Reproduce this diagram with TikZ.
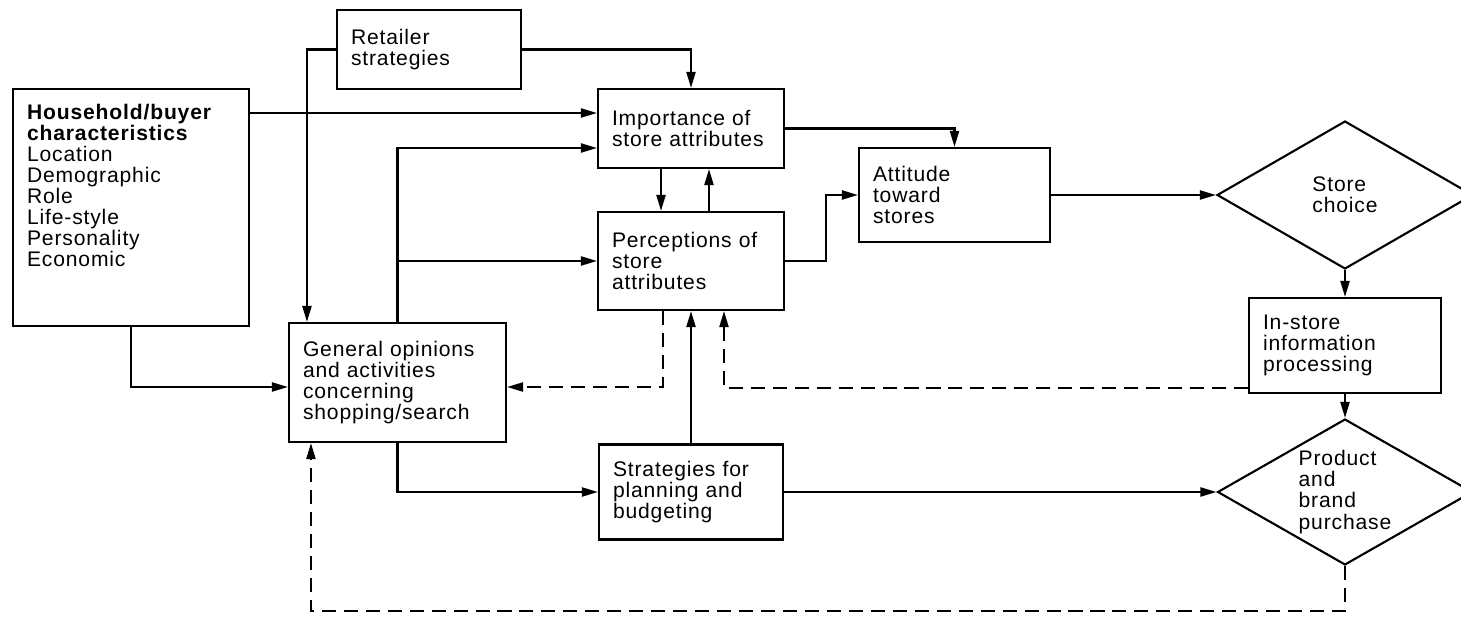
\documentclass[tikz,border=0pt]{standalone}
\usepackage{fontspec}
\setmainfont{Liberation Sans}[LetterSpace=4]
\usetikzlibrary{arrows.meta,shapes.geometric}

\begin{document}
\begin{tikzpicture}[x=0.02cm,y=-0.02cm,
    every node/.style={font=\fontsize{12}{12}\selectfont},
    box/.style={draw,line width=1.2pt,align=left,inner xsep=0.28cm,inner ysep=0pt},
    choicebox/.style={draw,diamond,line width=1.2pt,align=left,inner sep=0pt,shape aspect=1.73},
    link/.style={line width=1.2pt,-{Triangle[length=3.2mm,width=1.8mm]}},
    back/.style={link,dash pattern=on 8pt off 4.5pt}]
\useasboundingbox (0,0) rectangle (1461,625);

% boxes
\node[box,text width=3.12cm,minimum height=1.58cm] (retail) at (429,49.5) {Retailer\\strategies};
\node[box,anchor=north west,inner ysep=0.3cm] (house) at (12,88)
    {\parbox[t][4.14cm][t]{4.16cm}{\raggedright{\bfseries Household/buyer\\characteristics}\\Location\\Demographic\\Role\\Life-style\\Personality\\Economic}};
\node[box,text width=3.16cm,minimum height=1.58cm] (imp) at (691,128.5) {Importance of\\store attributes};
\node[box,text width=3.16cm,minimum height=1.96cm] (perc) at (691,261) {Perceptions of\\store\\attributes};
\node[box,text width=3.26cm,minimum height=1.88cm] (att) at (954.5,195) {Attitude\\toward\\stores};
\node[box,text width=3.78cm,minimum height=2.38cm] (gen) at (397.5,382.5) {General opinions\\and activities\\concerning\\shopping/search};
\node[box,text width=3.12cm,minimum height=1.9cm] (plan) at (691,492) {Strategies for\\planning and\\budgeting};
\node[box,text width=3.28cm,minimum height=1.9cm] (instore) at (1345,345.5) {In-store\\information\\processing};
\node[choicebox,minimum width=5.12cm,minimum height=2.96cm] (choice) at (1345,195) {Store\\choice};
\node[choicebox,minimum width=5.1cm,minimum height=2.92cm] (buy) at (1345,492) {Product\\and\\brand\\purchase};

% solid links
\draw[link] (retail.west) -| ([xshift=0.38cm]gen.north west);
\draw[link] (retail.east) -| (imp.north);
\draw[link] ([yshift=-0.5cm]house.north east) -- ([yshift=-0.5cm]house.north east -| imp.west);
\draw[link] (house.south) |- ([yshift=-0.09cm]gen.west);
\draw[link] (gen.north) |- ([yshift=-0.39cm]imp.west);
\draw[link] (gen.north) |- (perc.west);
\draw[link] ([xshift=-0.6cm]imp.south) -- ([xshift=-0.6cm]perc.north);
\draw[link] ([xshift=0.36cm]perc.north) -- ([xshift=0.36cm]imp.south);
\draw[link] (imp.east) -| (att.north);
\draw[link] (perc.east) -- ++(41,0) |- (att.west);
\draw[link] (att.east) -- (choice.west);
\draw[link] (choice.south) -- (instore.north);
\draw[link] (instore.south) -- (buy.north);
\draw[link] (gen.south) |- (plan.west);
\draw[link] (plan.north) -- (perc.south);
\draw[link] (plan.east) -- (buy.west);

% feedback
\draw[back] ([xshift=-0.56cm]perc.south) |- ([yshift=-0.09cm]gen.east);
\draw[back] ([yshift=0.12cm]instore.south west) -| ([xshift=0.66cm]perc.south);
\draw[back] (buy.south) -- ++(0,45) -| ([xshift=0.46cm]gen.south west);
\end{tikzpicture}
\end{document}
